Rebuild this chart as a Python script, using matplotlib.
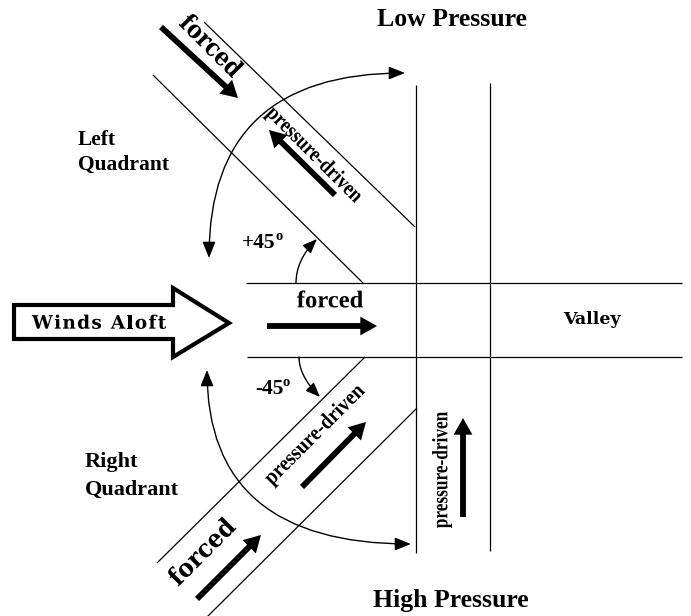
import matplotlib
matplotlib.use('Agg')
import matplotlib.pyplot as plt
from matplotlib.patches import FancyArrowPatch, Polygon, PathPatch
from matplotlib.textpath import TextPath, text_to_path
from matplotlib.font_manager import FontProperties
from matplotlib.transforms import Affine2D

# Diagrama: vientos en altura canalizados por un valle (coordenadas en px de la imagen)
valley_lines = [
    [(204, 22), (415, 227)],    # canal superior, borde de arriba
    [(153, 75), (363, 283)],    # canal superior, borde de abajo
    [(157, 563), (365, 357)],   # canal inferior, borde de arriba
    [(204, 620), (417, 408)],   # canal inferior, borde de abajo
    [(416, 85), (416, 553)],    # valle vertical izq.
    [(490, 83), (490, 551)],    # valle vertical der.
    [(246, 283), (682, 283)],   # valle horizontal arriba
    [(247, 357), (682, 357)],   # valle horizontal abajo
]

# flechas gruesas (cola, punta)
flow_arrows = [
    [(161, 27), (238, 98)],
    [(335, 195), (269, 130)],
    [(267, 326), (377, 326)],
    [(302, 487), (366, 422)],
    [(197, 599), (261, 535)],
    [(463, 517), (463, 418)],
]

# etiquetas de las flechas: texto, centro, angulo, largo de la tinta
flow_labels = [
    ('forced', (212, 45), -45, 76),
    ('pressure-driven', (314, 155), -45, 126),
    ('forced', (330, 299), 0, 66),
    ('pressure-driven', (315, 435), 45, 132),
    ('forced', (201, 551), 45, 82),
    ('pressure-driven', (442, 470), 90, 116),
]

winds_aloft = [(14, 305), (173, 305), (173, 288), (229, 323),
               (173, 357), (173, 339), (14, 339)]

fig = plt.figure(figsize=(6.91, 6.16), dpi=100)
ax = fig.add_axes([0, 0, 1, 1])
ax.set_xlim(0, 691)
ax.set_ylim(616, 0)
ax.axis('off')

serif = 'Liberation Serif'
bold_serif = FontProperties(family=serif, weight='bold')
wide_serif = FontProperties(family='DejaVu Serif', weight='bold')


def path_text(s, center, angle, length, size, prop):
    # texto como trazo, estirado/comprimido al largo medido
    tp = TextPath((0, 0), s, size=size, prop=prop)
    bb = tp.get_extents()
    sx = length / bb.width
    tr = (Affine2D().translate(-(bb.x0 + bb.x1) / 2, -(bb.y0 + bb.y1) / 2)
          .scale(sx, -1).rotate_deg(-angle).translate(*center))
    ax.add_patch(PathPatch(tr.transform_path(tp), facecolor='black', lw=0))


def spaced_text(s, x_left, y_center, size, gap, prop):
    # texto con espaciado entre letras
    x = x_left
    p = prop.copy()
    p.set_size(size)
    for ch in s:
        w, h, d = text_to_path.get_text_width_height_descent(ch, p, ismath=False)
        if ch != ' ':
            tp = TextPath((0, 0), ch, size=size, prop=prop)
            tr = Affine2D().translate(0, -size * 0.36).scale(1, -1).translate(x, y_center)
            ax.add_patch(PathPatch(tr.transform_path(tp), facecolor='black', lw=0))
        x += w + gap


for (x0, y0), (x1, y1) in valley_lines:
    ax.plot([x0, x1], [y0, y1], color='black', lw=0.9, solid_capstyle='butt')

for tail, tip in flow_arrows:
    ax.add_patch(FancyArrowPatch(tail, tip,
                                 arrowstyle='simple,head_length=1.2,head_width=1.35,tail_width=0.42',
                                 mutation_scale=10, color='black', lw=0,
                                 shrinkA=0, shrinkB=0))

for txt, c, rot, L in flow_labels:
    if txt == 'forced' and rot != 0:
        path_text(txt, c, rot, L, 25, wide_serif)
    elif txt == 'forced':
        path_text(txt, c, rot, L, 24, bold_serif)
    else:
        path_text(txt, c, rot, L, 22, bold_serif)

# arcos grandes (cuadrantes)
for a, b in [((209, 258), (405, 73)), ((207, 370), (411, 544))]:
    ax.add_patch(FancyArrowPatch(a, b,
                                 connectionstyle='angle3,angleA=90,angleB=0',
                                 arrowstyle='<|-|>,head_length=0.55,head_width=0.22',
                                 mutation_scale=18, color='black', lw=1.0,
                                 shrinkA=0, shrinkB=0))

# arcos pequeños +45 / -45
ax.add_patch(FancyArrowPatch((296, 283), (317, 239),
                             connectionstyle='angle3,angleA=90,angleB=45',
                             arrowstyle='-|>,head_length=0.55,head_width=0.22',
                             mutation_scale=16, color='black', lw=1.0,
                             shrinkA=0, shrinkB=0))
ax.add_patch(FancyArrowPatch((299, 357), (320, 397),
                             connectionstyle='angle3,angleA=90,angleB=-45',
                             arrowstyle='-|>,head_length=0.55,head_width=0.22',
                             mutation_scale=16, color='black', lw=1.0,
                             shrinkA=0, shrinkB=0))

ax.text(242, 243, '+45', ha='left', va='center', fontsize=15.5, fontweight='bold', family=serif)
ax.text(276, 236, 'o', ha='left', va='center', fontsize=10.5, fontweight='bold', family=serif)
ax.text(255, 389, '-45', ha='left', va='center', fontsize=15.5, fontweight='bold', family=serif)
ax.text(283, 382, 'o', ha='left', va='center', fontsize=10.5, fontweight='bold', family=serif)

# flecha hueca "Winds Aloft"
ax.add_patch(Polygon(winds_aloft, closed=True, facecolor='white', edgecolor='black',
                     lw=3.0, joinstyle='miter'))
spaced_text('Winds Aloft', 32, 322, 18.5, 1.3, wide_serif)
ax.text(592, 319, 'Valley', ha='center', va='center', fontsize=12.5,
        fontweight='bold', family='DejaVu Serif')

ax.text(452, 20, 'Low Pressure', ha='center', va='center', fontsize=18.5,
        fontweight='bold', family=serif)
ax.text(451, 601, 'High Pressure', ha='center', va='center', fontsize=18.5,
        fontweight='bold', family=serif)

ax.text(78, 140, 'Left', ha='left', va='center', fontsize=15.5, fontweight='bold', family=serif)
ax.text(78, 165, 'Quadrant', ha='left', va='center', fontsize=15.5, fontweight='bold', family=serif)
ax.text(85, 462, 'Right', ha='left', va='center', fontsize=16, fontweight='bold', family=serif)
ax.text(85, 490, 'Quadrant', ha='left', va='center', fontsize=16, fontweight='bold', family=serif)

fig.savefig('out.png', dpi=100)
